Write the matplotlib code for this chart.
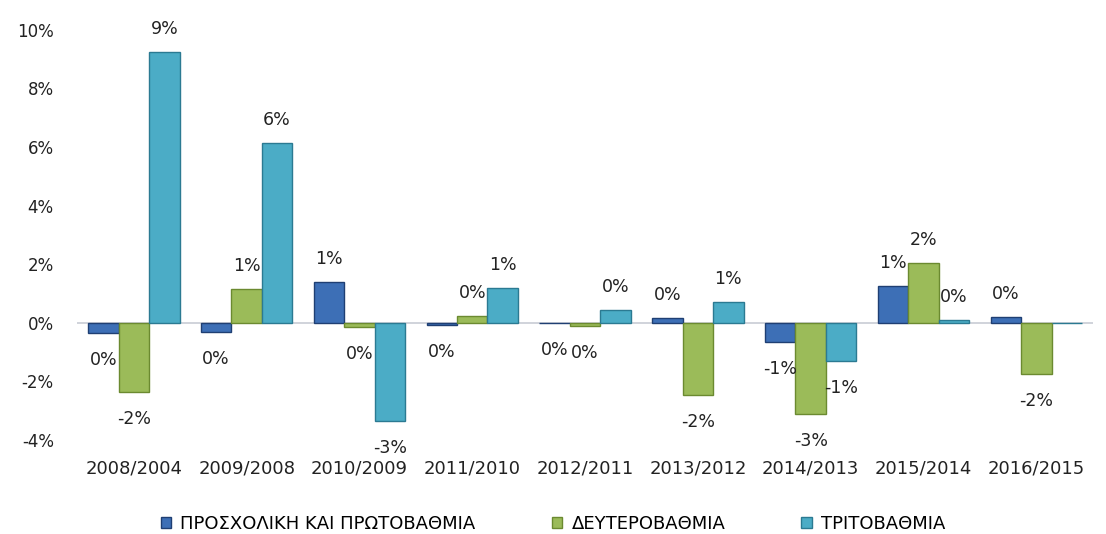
import matplotlib
matplotlib.use("Agg")
import matplotlib.pyplot as plt
import numpy as np

plt.rcParams['font.family'] = ['DejaVu Sans']

categories = ['2008/2004', '2009/2008', '2010/2009', '2011/2010', '2012/2011',
              '2013/2012', '2014/2013', '2015/2014', '2016/2015']
series_names = ['ΠΡΟΣΧΟΛΙΚΗ ΚΑΙ ΠΡΩΤΟΒΑΘΜΙΑ', 'ΔΕΥΤΕΡΟΒΑΘΜΙΑ', 'ΤΡΙΤΟΒΑΘΜΙΑ']
preschool = [-0.35, -0.30, 1.40, -0.06, -0.02, 0.15, -0.65, 1.25, 0.20]
secondary = [-2.35, 1.15, -0.15, 0.25, -0.10, -2.45, -3.10, 2.05, -1.75]
tertiary = [9.25, 6.15, -3.35, 1.20, 0.45, 0.70, -1.30, 0.10, 0.00]

colors = ['#3d6fb6', '#9bbb59', '#4bacc6']
edges = ['#1f3f73', '#6b8a30', '#2b7a92']

fig = plt.figure(figsize=(11.06, 5.34), dpi=100)
ax = fig.add_axes([0.07, 0.176, 0.918, 0.768])

x = np.arange(len(categories))
w = 0.27
for i, (vals, name) in enumerate(zip([preschool, secondary, tertiary], series_names)):
    xs = x + (i - 1) * w
    ax.bar(xs, vals, w, color=colors[i], edgecolor=edges[i], linewidth=1, label=name)
    for xi, v in zip(xs, vals):
        if i == 2 and v == 0:
            continue
        off = 14 if v >= 0 else -18
        ax.annotate(f'{round(v):.0f}%'.replace('-0%', '0%'), (xi, v), xytext=(0, off),
                    textcoords='offset pixels', ha='center',
                    va='bottom' if v >= 0 else 'top', fontsize=12.5, color='#222222')

ax.axhline(0, color='#c8ccd4', linewidth=1.2, zorder=0)
ax.set_xlim(-0.5, 8.5)
ax.set_ylim(-4, 10)
ax.set_yticks(range(-4, 11, 2))
ax.set_yticklabels([f'{t}%' for t in range(-4, 11, 2)], fontsize=12)
ax.set_xticks(x)
ax.set_xticklabels(categories, fontsize=13)
ax.tick_params(axis='both', length=0, colors='#222222')
ax.tick_params(axis='y', pad=17)
ax.tick_params(axis='x', pad=14)
for s in ax.spines.values():
    s.set_visible(False)

fig.legend(loc='lower center', bbox_to_anchor=(0.5, -0.028), ncol=3, frameon=False,
           fontsize=13, handlelength=0.6, handleheight=0.6, columnspacing=4.2,
           handletextpad=0.5)

fig.savefig('out.png', dpi=100)
